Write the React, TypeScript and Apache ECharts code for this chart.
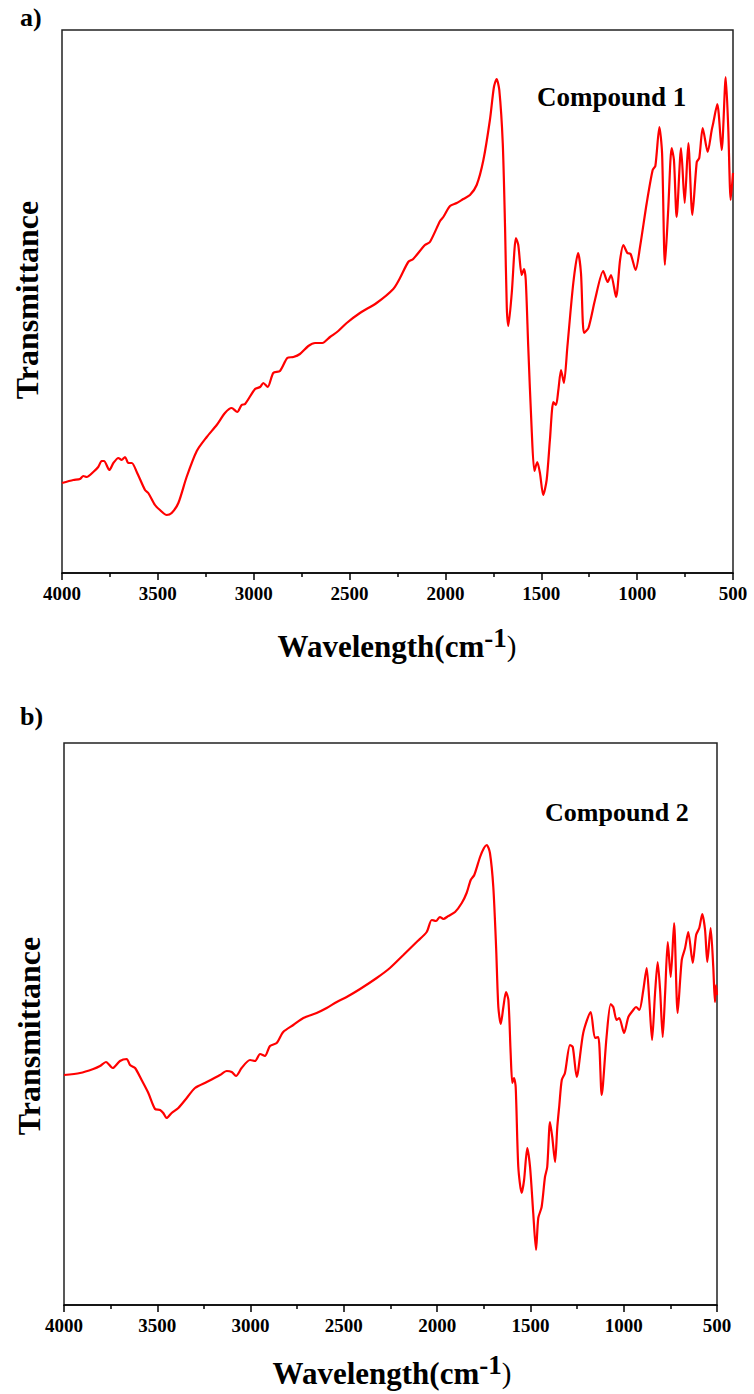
import React, { useEffect, useRef } from 'react';
import * as echarts from 'echarts';

// Compound 1: wavenumber (cm-1) and transmittance (arbitrary units)
const wn1 = [4000, 3941, 3906, 3889, 3871, 3837, 3811, 3793, 3781, 3753, 3732, 3706, 3689, 3671, 3654, 3636, 3610, 3567, 3550, 3515, 3489, 3454, 3428, 3393, 3350, 3297, 3245, 3193, 3150, 3115, 3086, 3063, 3045, 2993, 2967, 2950, 2927, 2898, 2863, 2825, 2793, 2759, 2715, 2680, 2642, 2602, 2559, 2515, 2446, 2359, 2272, 2237, 2194, 2168, 2107, 2081, 2028, 2011, 1976, 1941, 1907, 1872, 1837, 1802, 1768, 1747, 1733, 1719, 1701, 1689, 1680, 1672, 1654, 1632, 1620, 1602, 1590, 1581, 1568, 1550, 1536, 1521, 1507, 1490, 1472, 1455, 1437, 1423, 1411, 1397, 1382, 1364, 1333, 1308, 1293, 1277, 1254, 1220, 1177, 1154, 1136, 1110, 1089, 1072, 1051, 1034, 1008, 985, 950, 919, 905, 884, 870, 855, 838, 820, 808, 794, 771, 752, 733, 712, 689, 676, 658, 632, 611, 603, 582, 559, 538, 525, 512, 500];
const tr1 = [90, 93, 94, 97, 96, 101, 106, 112, 112, 103, 110, 115, 113, 116, 110, 110, 101, 83, 80, 68, 63, 58, 60, 70, 96, 122, 136, 148, 160, 165, 161, 168, 169, 184, 186, 190, 186, 200, 202, 215, 216, 219, 227, 230, 230, 236, 242, 250, 260, 270, 284, 295, 311, 314, 328, 331, 352, 356, 367, 370, 374, 378, 388, 413, 453, 486, 494, 483, 430, 346, 266, 247, 280, 335, 328, 298, 304, 293, 226, 143, 102, 111, 100, 78, 93, 133, 171, 168, 183, 203, 190, 226, 290, 320, 300, 240, 245, 273, 302, 291, 298, 276, 313, 328, 320, 319, 303, 326, 370, 403, 407, 446, 420, 308, 363, 425, 413, 356, 425, 370, 430, 358, 411, 415, 445, 421, 443, 450, 469, 423, 496, 446, 373, 400];

// Compound 2
const wn2 = [4000, 3914, 3843, 3807, 3775, 3739, 3700, 3664, 3646, 3619, 3584, 3548, 3512, 3485, 3468, 3450, 3423, 3387, 3342, 3298, 3235, 3164, 3128, 3101, 3078, 3048, 3003, 2976, 2949, 2923, 2896, 2860, 2825, 2771, 2717, 2646, 2592, 2538, 2485, 2413, 2324, 2253, 2181, 2110, 2056, 2029, 2006, 1985, 1967, 1940, 1904, 1868, 1842, 1820, 1801, 1770, 1749, 1734, 1717, 1699, 1684, 1672, 1659, 1645, 1631, 1618, 1606, 1597, 1588, 1579, 1565, 1547, 1534, 1517, 1502, 1485, 1470, 1458, 1440, 1422, 1410, 1395, 1383, 1368, 1356, 1345, 1332, 1315, 1288, 1273, 1252, 1217, 1177, 1154, 1136, 1118, 1092, 1070, 1056, 1038, 1024, 998, 975, 949, 934, 916, 895, 877, 863, 848, 832, 818, 805, 791, 778, 764, 748, 730, 711, 689, 671, 654, 630, 612, 595, 579, 564, 552, 534, 520, 511, 505, 500];
const tr2 = [230, 232, 236, 239, 243, 237, 244, 246, 240, 237, 225, 212, 196, 195, 192, 187, 192, 197, 207, 217, 223, 230, 234, 233, 229, 237, 245, 244, 251, 249, 259, 262, 273, 280, 287, 292, 297, 303, 308, 316, 327, 337, 350, 363, 373, 385, 384, 388, 386, 389, 393, 402, 412, 425, 430, 448, 457, 460, 452, 418, 358, 298, 281, 298, 313, 305, 252, 222, 227, 218, 138, 112, 125, 157, 138, 92, 55, 87, 98, 128, 138, 183, 168, 143, 178, 200, 225, 232, 260, 258, 228, 272, 293, 267, 268, 210, 268, 301, 298, 285, 287, 272, 288, 295, 298, 295, 315, 337, 305, 265, 312, 343, 315, 268, 312, 363, 328, 382, 292, 345, 357, 373, 342, 370, 377, 391, 375, 343, 377, 338, 303, 320, 310];

const panelLabels = ['a)', 'b)'];
const compoundNames = ['Compound 1', 'Compound 2'];
const yTitle = 'Transmittance';

const SERIF = '"Liberation Serif", "Times New Roman", serif';

function xAxisFor(gridIndex: number) {
  return {
    gridIndex,
    type: 'value',
    inverse: true,
    min: 500,
    max: 4000,
    interval: 500,
    axisLine: { show: true, onZero: false, lineStyle: { color: '#000', width: 1.5 } },
    axisTick: { show: true, inside: false, length: 7, lineStyle: { color: '#000', width: 1.5 } },
    minorTick: { show: true, splitNumber: 2, length: 4, lineStyle: { color: '#000', width: 1.5 } },
    splitLine: { show: false },
    minorSplitLine: { show: false },
    axisLabel: {
      show: true,
      showMinLabel: true,
      showMaxLabel: true,
      formatter: (v: number) => String(v),
      fontFamily: SERIF,
      fontWeight: 'bold',
      fontSize: 19,
      color: '#000',
      margin: 11,
    },
  };
}

function xTitle(cx: number, cy: number) {
  return {
    type: 'text',
    x: cx,
    y: cy,
    style: {
      text: '{w|Wavelength(cm}{s|-1}{p|)}',
      align: 'center',
      verticalAlign: 'middle',
      fill: '#000',
      fontFamily: SERIF,
      fontWeight: 'bold',
      fontSize: 31,
      rich: {
        w: { fontFamily: SERIF, fontWeight: 'bold', fontSize: 31, fill: '#000' },
        s: { fontFamily: SERIF, fontWeight: 'bold', fontSize: 27, fill: '#000', padding: [0, 0, 16, 0] },
        p: { fontFamily: SERIF, fontWeight: 'normal', fontSize: 29, fill: '#000' },
      },
    },
  };
}

function App() {
  const ref = useRef<HTMLDivElement>(null);
  useEffect(() => {
    if (!ref.current) return;
    const chart = echarts.init(ref.current, undefined, { renderer: 'svg' });
    const option: any = {
      animation: false,
      backgroundColor: '#fff',
      grid: [
        { left: 62, top: 30, width: 671, height: 543, show: true, borderColor: '#222', borderWidth: 1.5, backgroundColor: 'transparent' },
        { left: 64, top: 743, width: 653, height: 562, show: true, borderColor: '#222', borderWidth: 1.5, backgroundColor: 'transparent' },
      ],
      xAxis: [xAxisFor(0), xAxisFor(1)],
      yAxis: [
        { gridIndex: 0, type: 'value', min: 0, max: 543, show: false },
        { gridIndex: 1, type: 'value', min: 0, max: 562, show: false },
      ],
      series: [
        {
          type: 'line',
          xAxisIndex: 0,
          yAxisIndex: 0,
          data: wn1.map((w, i) => [w, tr1[i]]),
          showSymbol: false,
          smooth: 0.25,
          lineStyle: { color: '#ff0000', width: 2.2 },
        },
        {
          type: 'line',
          xAxisIndex: 1,
          yAxisIndex: 1,
          data: wn2.map((w, i) => [w, tr2[i]]),
          showSymbol: false,
          smooth: 0.25,
          lineStyle: { color: '#ff0000', width: 2.2 },
        },
      ],
      graphic: [
        { type: 'text', left: 20, top: 4, style: { text: panelLabels[0], fontFamily: SERIF, fontWeight: 'bold', fontSize: 26, fill: '#000' } },
        { type: 'text', left: 20, top: 703, style: { text: panelLabels[1], fontFamily: SERIF, fontWeight: 'bold', fontSize: 26, fill: '#000' } },
        { type: 'text', x: 537, y: 97, style: { text: compoundNames[0], align: 'left', verticalAlign: 'middle', fontFamily: SERIF, fontWeight: 'bold', fontSize: 27, fill: '#000' } },
        { type: 'text', x: 545, y: 812, style: { text: compoundNames[1], align: 'left', verticalAlign: 'middle', fontFamily: SERIF, fontWeight: 'bold', fontSize: 26, fill: '#000' } },
        { type: 'text', x: 27, y: 300, rotation: Math.PI / 2, style: { text: yTitle, align: 'center', verticalAlign: 'middle', fontFamily: SERIF, fontWeight: 'bold', fontSize: 32, fill: '#000' } },
        { type: 'text', x: 29, y: 1036, rotation: Math.PI / 2, style: { text: yTitle, align: 'center', verticalAlign: 'middle', fontFamily: SERIF, fontWeight: 'bold', fontSize: 32, fill: '#000' } },
        xTitle(397, 646),
        xTitle(392, 1373),
      ],
    };
    chart.setOption(option);
    return () => chart.dispose();
  }, []);
  return <div ref={ref} style={{ position: 'absolute', left: 0, top: 0, width: 754, height: 1394 }} />;
}

export default App;
